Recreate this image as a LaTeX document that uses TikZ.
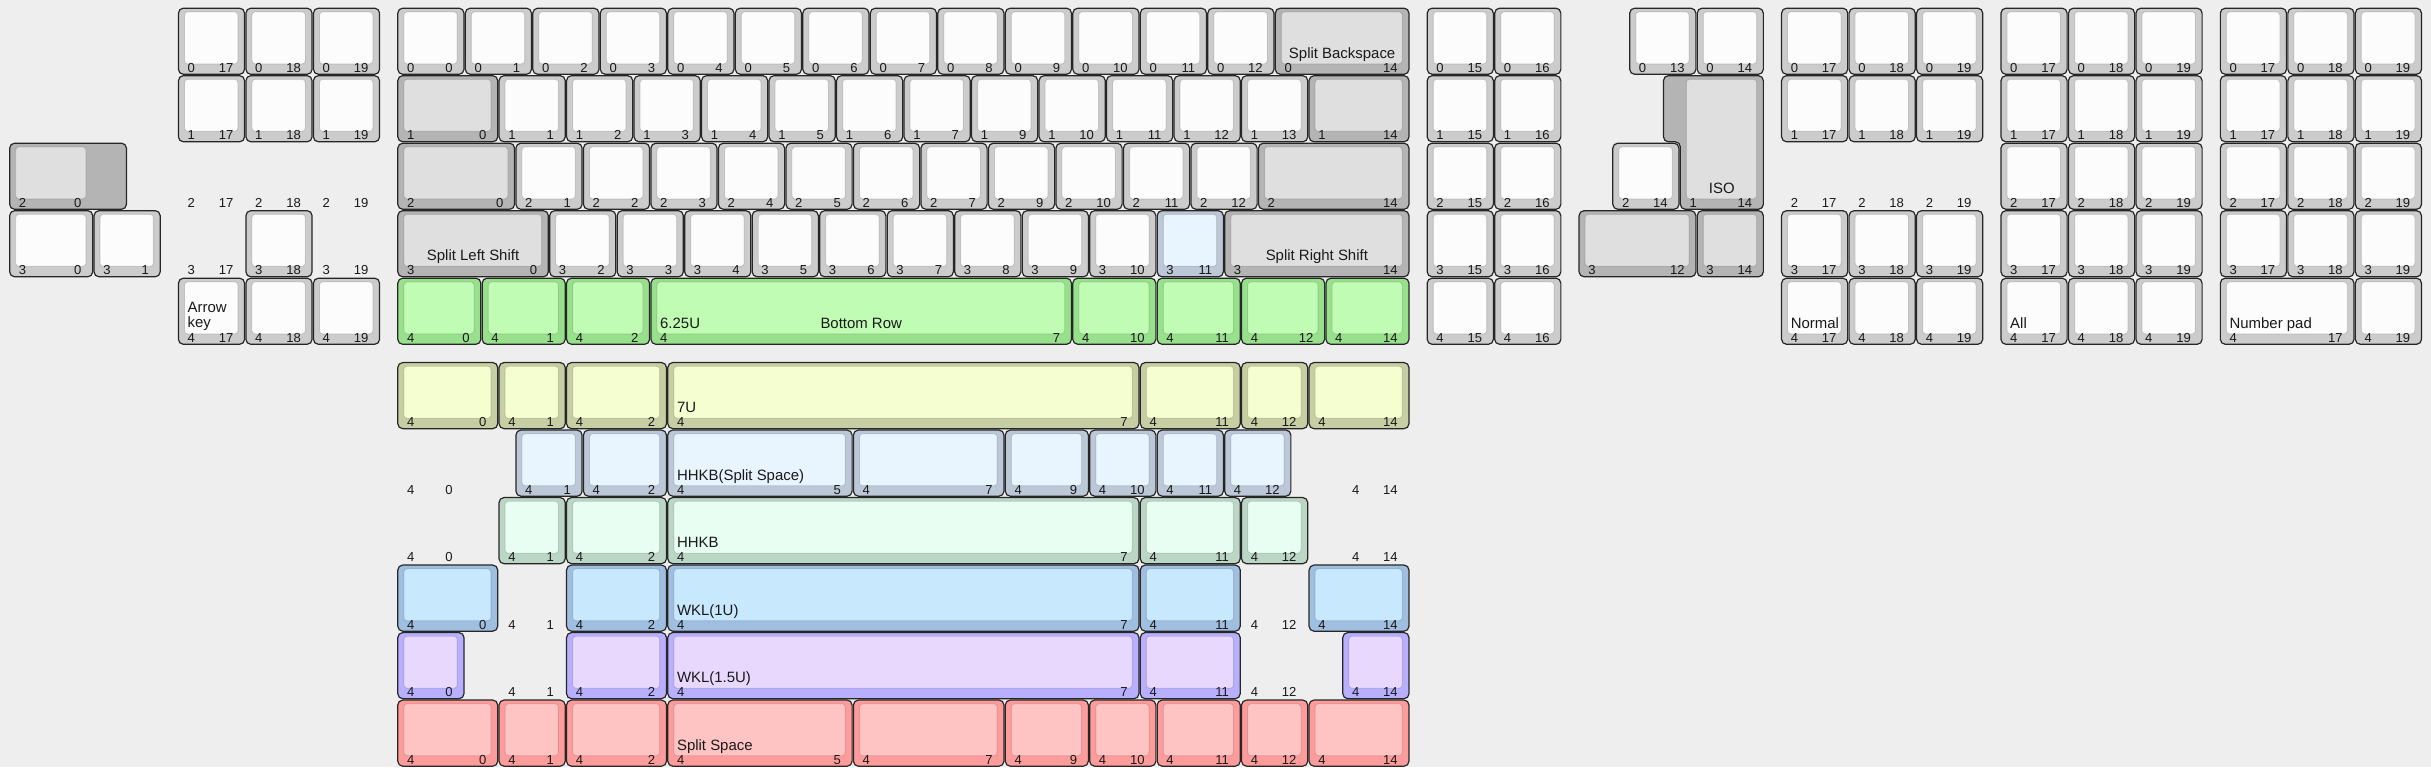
\documentclass[tikz,border=0pt]{standalone}
\usepackage{fontspec}
\setmainfont{Liberation Sans}
\definecolor{bgc}{HTML}{EEEEEE}
\definecolor{whiteOut}{HTML}{CCCCCC}\definecolor{whiteIn}{HTML}{FCFCFC}
\definecolor{grayOut}{HTML}{B4B4B4}\definecolor{grayIn}{HTML}{DFDFDF}
\definecolor{iceOut}{HTML}{BCC8D8}\definecolor{iceIn}{HTML}{E8F4FE}
\definecolor{greenOut}{HTML}{98E08C}\definecolor{greenIn}{HTML}{C0FCB4}
\definecolor{limeOut}{HTML}{C8CEA4}\definecolor{limeIn}{HTML}{F4FED0}
\definecolor{mintOut}{HTML}{BCD6C6}\definecolor{mintIn}{HTML}{E8FEF2}
\definecolor{skyOut}{HTML}{A0BEE0}\definecolor{skyIn}{HTML}{C8E8FE}
\definecolor{lilacOut}{HTML}{B8B0FE}\definecolor{lilacIn}{HTML}{E8D8FE}
\definecolor{roseOut}{HTML}{FE9C9C}\definecolor{roseIn}{HTML}{FEC4C4}
% x, y, width, colour, row, column
\newcommand{\kcap}[6]{%
  \filldraw[keyout, fill=#4Out] (#1+0.01,#2+0.01) rectangle (#1+#3-0.01,#2+0.99);
  \filldraw[keyin, fill=#4In] (#1+0.1,#2+0.065) rectangle (#1+#3-0.11,#2+0.835);
  \node[lgd, anchor=base west] (r-#5-#6) at (#1+0.14,#2+0.96) {#5};
  \node[lgd, anchor=base east] (c-#5-#6) at (#1+#3-0.17,#2+0.96) {#6};}
% row/column numbers with no key
\newcommand{\ghost}[4]{%
  \node[lgd, anchor=base west] (gr-#3-#4) at (#1+0.14,#2+0.96) {#3};
  \node[lgd, anchor=base east] (gc-#3-#4) at (#1+0.83,#2+0.96) {#4};}

\begin{document}
\begin{tikzpicture}[x=1cm, y=-1cm,
  keyout/.style={draw=black!85, line width=0.5pt, rounded corners=2.1pt},
  keyin/.style={draw=black, draw opacity=0.12, line width=0.4pt, rounded corners=1.4pt},
  lgd/.style={inner sep=0pt, text=black!90, font=\fontsize{5.5}{6}\selectfont},
  lbl/.style={inner sep=0pt, text=black!90, font=\fontsize{6.3}{6.4}\selectfont}]
\fill[bgc] (-0.1333,-0.111) rectangle (35.881,11.252);
\useasboundingbox (-0.1333,-0.111) rectangle (35.881,11.252);

% left block
\filldraw[keyout, fill=grayOut] (0.01,2.01) rectangle (1.74,2.99);
\filldraw[keyin, fill=grayIn] (0.1,2.065) rectangle (1.14,2.835);
\node[lgd, anchor=base west] (r-2-0) at (0.14,2.96) {2};
\node[lgd, anchor=base east] (c-2-0) at (1.08,2.96) {0};
\kcap{0}{3}{1.25}{white}{3}{0}
\kcap{1.25}{3}{1}{white}{3}{1}

% arrow keys
\foreach \rw in {0,1,4} \foreach \col in {17,18,19} {\kcap{\col-14.5}{\rw}{1}{white}{\rw}{\col}}
\foreach \col in {17,18,19} {\ghost{\col-14.5}{2}{2}{\col}}
\ghost{2.5}{3}{3}{17}
\kcap{3.5}{3}{1}{white}{3}{18}
\ghost{4.5}{3}{3}{19}
\node[lbl, align=left, anchor=south west] (arrow) at (2.64,4.795) {Arrow\\key};

% main block
\foreach \col in {0,...,12} {\kcap{5.75+\col}{0}{1}{white}{0}{\col}}
\kcap{18.75}{0}{2}{gray}{0}{14}
\node[lbl, anchor=base] (bksp) at (19.75,0.75) {Split Backspace};
\kcap{5.75}{1}{1.5}{gray}{1}{0}
\foreach \col in {1,...,7} {\kcap{6.25+\col}{1}{1}{white}{1}{\col}}
\foreach \col in {9,...,13} {\kcap{5.25+\col}{1}{1}{white}{1}{\col}}
\kcap{19.25}{1}{1.5}{gray}{1}{14}
\kcap{5.75}{2}{1.75}{gray}{2}{0}
\foreach \col in {1,...,7} {\kcap{6.5+\col}{2}{1}{white}{2}{\col}}
\foreach \col in {9,...,12} {\kcap{5.5+\col}{2}{1}{white}{2}{\col}}
\kcap{18.5}{2}{2.25}{gray}{2}{14}
\kcap{5.75}{3}{2.25}{gray}{3}{0}
\node[lbl, anchor=base] (lshift) at (6.875,3.75) {Split Left Shift};
\foreach \col in {2,...,10} {\kcap{6+\col}{3}{1}{white}{3}{\col}}
\kcap{17}{3}{1}{ice}{3}{11}
\kcap{18}{3}{2.75}{gray}{3}{14}
\node[lbl, anchor=base] (rshift) at (19.375,3.75) {Split Right Shift};
\foreach \col/\xx in {0/5.75,1/7,2/8.25,10/15.75,11/17,12/18.25,14/19.5} {\kcap{\xx}{4}{1.25}{green}{4}{\col}}
\kcap{9.5}{4}{6.25}{green}{4}{7}
\node[lbl, anchor=base west] (u625) at (9.64,4.75) {6.25U};
\node[lbl, anchor=base] (bottom) at (12.625,4.75) {Bottom Row};

% 15/16 columns
\foreach \rw in {0,...,4} \foreach \col in {15,16} {\kcap{\col+6}{\rw}{1}{white}{\rw}{\col}}

% ISO corner
\kcap{24}{0}{1}{white}{0}{13}
\kcap{25}{0}{1}{white}{0}{14}
\filldraw[keyout, fill=grayOut] (24.51,1.01) -- (25.99,1.01) -- (25.99,2.99) -- (24.76,2.99) -- (24.76,1.99) -- (24.51,1.99) -- cycle;
\filldraw[keyin, fill=grayIn] (24.85,1.065) rectangle (25.89,2.835);
\node[lgd, anchor=base west] (r-1-14) at (24.89,2.96) {1};
\node[lgd, anchor=base east] (c-1-14) at (25.83,2.96) {14};
\node[lbl, anchor=base] (iso) at (25.375,2.75) {ISO};
\kcap{23.75}{2}{1}{white}{2}{14}
\kcap{23.25}{3}{1.75}{gray}{3}{12}
\kcap{25}{3}{1}{gray}{3}{14}

% right side clusters
\foreach \rw in {0,1,3,4} \foreach \col in {17,18,19} {\kcap{\col+9.25}{\rw}{1}{white}{\rw}{\col}}
\foreach \col in {17,18,19} {\ghost{\col+9.25}{2}{2}{\col}}
\node[lbl, anchor=base west] (normal) at (26.39,4.75) {Normal};
\foreach \rw in {0,...,4} \foreach \col in {17,18,19} {\kcap{\col+12.5}{\rw}{1}{white}{\rw}{\col}}
\node[lbl, anchor=base west] (all) at (29.64,4.75) {All};
\foreach \rw in {0,...,3} \foreach \col in {17,18,19} {\kcap{\col+15.75}{\rw}{1}{white}{\rw}{\col}}
\kcap{32.75}{4}{2}{white}{4}{17}
\kcap{34.75}{4}{1}{white}{4}{19}
\node[lbl, anchor=base west] (numpad) at (32.89,4.75) {Number pad};

% bottom row variants
\foreach \col/\xx/\ww in {0/5.75/1.5, 1/7.25/1, 2/8.25/1.5, 7/9.75/7, 11/16.75/1.5, 12/18.25/1, 14/19.25/1.5} {\kcap{\xx}{5.25}{\ww}{lime}{4}{\col}}
\node[lbl, anchor=base west] (u7) at (9.89,6) {7U};

\ghost{5.75}{6.25}{4}{0}
\foreach \col/\xx/\ww in {1/7.5/1, 2/8.5/1.25, 5/9.75/2.75, 7/12.5/2.25, 9/14.75/1.25, 10/16/1, 11/17/1, 12/18/1} {\kcap{\xx}{6.25}{\ww}{ice}{4}{\col}}
\ghost{19.75}{6.25}{4}{14}
\node[lbl, anchor=base west] (hhkbsp) at (9.89,7) {HHKB(Split Space)};

\ghost{5.75}{7.25}{4}{0}
\foreach \col/\xx/\ww in {1/7.25/1, 2/8.25/1.5, 7/9.75/7, 11/16.75/1.5, 12/18.25/1} {\kcap{\xx}{7.25}{\ww}{mint}{4}{\col}}
\ghost{19.75}{7.25}{4}{14}
\node[lbl, anchor=base west] (hhkb) at (9.89,8) {HHKB};

\foreach \col/\xx/\ww in {0/5.75/1.5, 2/8.25/1.5, 7/9.75/7, 11/16.75/1.5, 14/19.25/1.5} {\kcap{\xx}{8.25}{\ww}{sky}{4}{\col}}
\ghost{7.25}{8.25}{4}{1}
\ghost{18.25}{8.25}{4}{12}
\node[lbl, anchor=base west] (wkla) at (9.89,9) {WKL(1U)};

\foreach \col/\xx/\ww in {0/5.75/1, 2/8.25/1.5, 7/9.75/7, 11/16.75/1.5, 14/19.75/1} {\kcap{\xx}{9.25}{\ww}{lilac}{4}{\col}}
\ghost{7.25}{9.25}{4}{1}
\ghost{18.25}{9.25}{4}{12}
\node[lbl, anchor=base west] (wklb) at (9.89,10) {WKL(1.5U)};

\foreach \col/\xx/\ww in {0/5.75/1.5, 1/7.25/1, 2/8.25/1.5, 5/9.75/2.75, 7/12.5/2.25, 9/14.75/1.25, 10/16/1, 11/17/1.25, 12/18.25/1, 14/19.25/1.5} {\kcap{\xx}{10.25}{\ww}{rose}{4}{\col}}
\node[lbl, anchor=base west] (splitsp) at (9.89,11) {Split Space};
\end{tikzpicture}
\end{document}
